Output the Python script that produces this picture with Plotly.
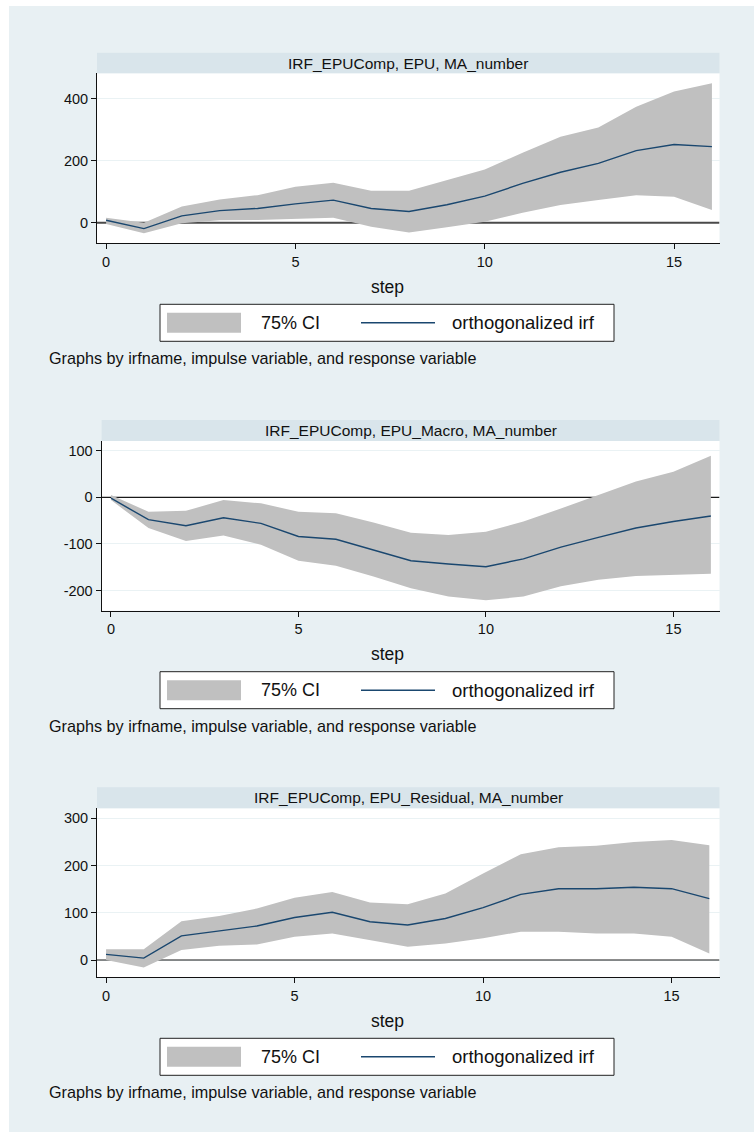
import plotly.graph_objects as go

# ---- data: orthogonalized impulse responses with 75% confidence bands ----
steps = list(range(17))

epu_irf = [8, -19, 22, 39, 46, 61, 73, 46, 36, 58, 86, 127, 163, 192, 233, 253, 246]
epu_lo = [-4, -34, -2, 8, 9, 12, 16, -13, -32, -15, 3, 32, 57, 73, 89, 84, 41]
epu_hi = [16, 0, 52, 75, 89, 116, 129, 103, 103, 138, 172, 226, 278, 308, 375, 424, 451]

macro_irf = [-2, -48, -61, -44, -56, -84, -90, -113, -136, -143, -149, -132, -107, -86, -66, -52, -40]
macro_lo = [-6, -66, -94, -82, -102, -136, -147, -170, -195, -213, -221, -213, -191, -177, -169, -166, -164]
macro_hi = [5, -31, -29, -6, -13, -31, -34, -54, -76, -81, -74, -52, -24, 5, 34, 55, 89]

resid_irf = [12, 4, 51, 62, 72, 90, 101, 81, 74, 88, 111, 139, 151, 151, 154, 151, 130]
resid_lo = [0, -16, 21, 30, 33, 49, 56, 42, 28, 35, 46, 60, 60, 56, 56, 49, 14]
resid_hi = [23, 23, 82, 93, 109, 132, 144, 122, 118, 141, 183, 224, 239, 242, 250, 254, 243]

titles = [
    "IRF_EPUComp, EPU, MA_number",
    "IRF_EPUComp, EPU_Macro, MA_number",
    "IRF_EPUComp, EPU_Residual, MA_number",
]
x_ticks = [0, 5, 10, 15]
y_ticks = [[0, 200, 400], [-200, -100, 0, 100], [0, 100, 200, 300]]
y_tick_text = [["0", "200", "400"], ["-200", "-100", "0", "100"], ["0", "100", "200", "300"]]
ci_label = "75% CI"
irf_label = "orthogonalized irf"
x_title = "step"
note = "Graphs by irfname, impulse variable, and response variable"

# ---- page geometry (pixels) ----
W, H = 754, 1136
FONT = "Arial, 'Liberation Sans', sans-serif"
BG = "#e8f0f3"
STRIP = "#d9e5eb"
BAND = "#c0c0c0"
NAVY = "#1a476f"


def fx(p):
    return p / W


def fy(p):
    return 1 - p / H


# plot area: left, right, top, bottom; strip top; axis ranges
panels = [
    dict(left=97, right=719.5, top=73.3, bottom=243.3, strip=52.7,
         xr=[-0.24, 16.2], yr=[-66.6, 483], zc="#4a4a4a", zw=2),
    dict(left=101.6, right=719.5, top=441, bottom=610.7, strip=420,
         xr=[-0.25, 16.23], yr=[-243.3, 120.8], zc="#1a1a1a", zw=1.2),
    dict(left=97, right=719.5, top=808.3, bottom=977.3, strip=787.3,
         xr=[-0.24, 16.27], yr=[-36.6, 321.2], zc="#1a1a1a", zw=1.2),
]
series = [
    (epu_irf, epu_lo, epu_hi),
    (macro_irf, macro_lo, macro_hi),
    (resid_irf, resid_lo, resid_hi),
]

fig = go.Figure()
shapes = [
    dict(type="rect", xref="paper", yref="paper", x0=fx(9), x1=1, y0=fy(1132), y1=fy(6),
         fillcolor=BG, line=dict(width=0), layer="below"),
]
annotations = []

for i, (p, (irf, lo, hi)) in enumerate(zip(panels, series)):
    n = "" if i == 0 else str(i + 1)
    xa, ya = "x" + n, "y" + n

    # zero reference line, drawn first so the band covers it
    fig.add_trace(go.Scatter(x=p["xr"], y=[0, 0], mode="lines",
                             line=dict(width=p["zw"], color=p["zc"]),
                             xaxis=xa, yaxis=ya, showlegend=False, hoverinfo="skip",
                             cliponaxis=True))
    # confidence band
    fig.add_trace(go.Scatter(x=steps, y=lo, mode="lines", line=dict(width=0, color=BAND),
                             xaxis=xa, yaxis=ya, showlegend=False, hoverinfo="skip"))
    fig.add_trace(go.Scatter(x=steps, y=hi, mode="lines", line=dict(width=0, color=BAND),
                             fill="tonexty", fillcolor=BAND,
                             xaxis=xa, yaxis=ya, showlegend=False, hoverinfo="skip"))
    # impulse response
    fig.add_trace(go.Scatter(x=steps, y=irf, mode="lines", line=dict(width=1.4, color=NAVY),
                             xaxis=xa, yaxis=ya, showlegend=False))

    fig.update_layout(**{
        "xaxis" + n: dict(
            domain=[fx(p["left"]), fx(p["right"])], range=p["xr"], anchor=ya,
            tickvals=x_ticks, ticks="outside", ticklen=5, tickcolor="#111",
            showline=True, linecolor="#111", linewidth=1, showgrid=False, zeroline=False,
            tickfont=dict(family=FONT, size=14.5, color="#111"),
        ),
        "yaxis" + n: dict(
            domain=[fy(p["bottom"]), fy(p["top"])], range=p["yr"], anchor=xa,
            tickvals=y_ticks[i], ticktext=y_tick_text[i],
            ticks="outside", ticklen=5, tickcolor="#111",
            showline=True, linecolor="#111", linewidth=1,
            showgrid=True, gridcolor="#eaf2f4", gridwidth=1, zeroline=False,
            tickfont=dict(family=FONT, size=14.5, color="#111"),
        ),
    })

    # white plot region and header strip
    shapes.append(dict(type="rect", xref="paper", yref="paper",
                       x0=fx(p["left"]), x1=fx(p["right"]), y0=fy(p["bottom"]), y1=fy(p["top"]),
                       fillcolor="white", line=dict(width=0), layer="below"))
    shapes.append(dict(type="rect", xref="paper", yref="paper",
                       x0=fx(p["left"]), x1=fx(p["right"]), y0=fy(p["top"]), y1=fy(p["strip"]),
                       fillcolor=STRIP, line=dict(width=0), layer="below"))

    annotations.append(dict(text=titles[i], xref="paper", yref="paper",
                            x=fx((p["left"] + p["right"]) / 2), y=fy((p["top"] + p["strip"]) / 2),
                            showarrow=False, xanchor="center", yanchor="middle",
                            font=dict(family=FONT, size=15.5, color="#111")))

    b = p["bottom"]
    annotations.append(dict(text=x_title, xref="paper", yref="paper", x=fx(387), y=fy(b + 43.5),
                            showarrow=False, xanchor="center", yanchor="middle",
                            font=dict(family=FONT, size=17.5, color="#111")))

    # legend box
    lt, lb = b + 61, b + 98
    shapes.append(dict(type="rect", xref="paper", yref="paper", x0=fx(160), x1=fx(614),
                       y0=fy(lb), y1=fy(lt), fillcolor="white",
                       line=dict(color="#222", width=1), layer="above"))
    lm = (lt + lb) / 2
    shapes.append(dict(type="rect", xref="paper", yref="paper", x0=fx(167), x1=fx(241),
                       y0=fy(lm + 10), y1=fy(lm - 10), fillcolor=BAND,
                       line=dict(width=0), layer="above"))
    shapes.append(dict(type="line", xref="paper", yref="paper", x0=fx(361), x1=fx(435),
                       y0=fy(lm), y1=fy(lm), line=dict(color=NAVY, width=1.4), layer="above"))
    annotations.append(dict(text=ci_label, xref="paper", yref="paper", x=fx(259), y=fy(lm),
                            showarrow=False, xanchor="left", yanchor="middle",
                            font=dict(family=FONT, size=18, color="#111")))
    annotations.append(dict(text=irf_label, xref="paper", yref="paper", x=fx(450), y=fy(lm),
                            showarrow=False, xanchor="left", yanchor="middle",
                            font=dict(family=FONT, size=18.5, color="#111")))
    annotations.append(dict(text=note, xref="paper", yref="paper", x=fx(47), y=fy(b + 115),
                            showarrow=False, xanchor="left", yanchor="middle",
                            font=dict(family=FONT, size=16.2, color="#111")))

fig.update_layout(
    width=W, height=H,
    margin=dict(l=0, r=0, t=0, b=0),
    paper_bgcolor="white",
    plot_bgcolor="rgba(0,0,0,0)",
    shapes=shapes,
    annotations=annotations,
    showlegend=False,
)

fig.write_html("out.html")
